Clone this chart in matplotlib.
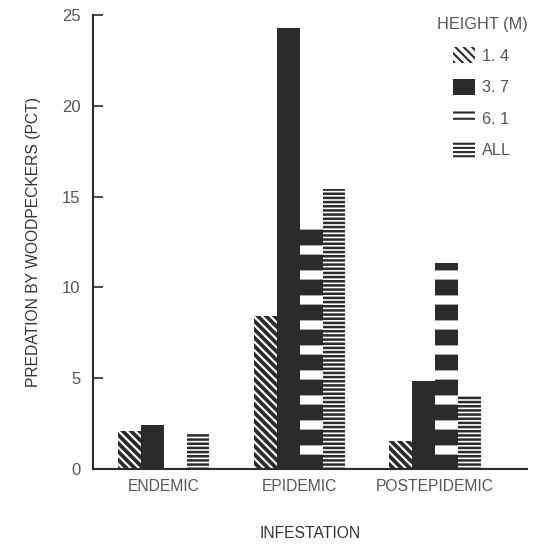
"""
Woodpecker predation by infestation level and sampling height.
Patterned bar chart recreated with matplotlib hatches.
"""

import numpy as np
import matplotlib
matplotlib.use('Agg')
import matplotlib.pyplot as plt
from matplotlib.patches import Patch
from matplotlib.legend_handler import HandlerTuple

# data
categories = ['ENDEMIC', 'EPIDEMIC', 'POSTEPIDEMIC']
heights = ['1. 4', '3. 7', '6. 1', 'ALL']
pct_14 = [2.1, 8.4, 1.55]
pct_37 = [2.45, 24.3, 4.85]
pct_61 = [0.0, 13.6, 11.35]
pct_all = [2.0, 15.4, 4.0]
yticks = [0, 5, 10, 15, 20, 25]

DPI = 150  # hatch spacing is per inch, so dpi sets the stripe period
dark = '#2b2b2b'
grey = '#555555'
clear = (1, 1, 1, 0)  # transparent face, hatch still drawn
DIAG = '\\' * 6
plt.rcParams['font.family'] = ['Liberation Sans', 'DejaVu Sans']


def set_hlw(p, lw):
    # per-artist hatch linewidth (matplotlib >= 3.10)
    if hasattr(p, 'set_hatch_linewidth'):
        p.set_hatch_linewidth(lw)


fig = plt.figure(figsize=(535 / DPI, 550 / DPI), dpi=DPI)
ax = fig.add_axes([93 / 535, 81 / 550, 434 / 535, 454 / 550])

centers = np.array([3.1, 9.05, 14.97])
bw = 1.0

# 1.4 m: diagonal stripes
b = ax.bar(centers - 1.5 * bw, pct_14, bw, color='white', edgecolor=dark,
           linewidth=0, hatch=DIAG)
for p in b:
    set_hlw(p, 1.8)

# 3.7 m: solid
ax.bar(centers - 0.5 * bw, pct_37, bw, color=dark, linewidth=0)

# 6.1 m: thick dark bands with a thin line between them
b = ax.bar(centers + 0.5 * bw, pct_61, bw, color='white', edgecolor=dark,
           linewidth=0, hatch='-')
for p in b:
    set_hlw(p, 5.8)
b = ax.bar(centers + 0.5 * bw, pct_61, bw, color=clear,
           edgecolor=dark, linewidth=0, hatch='--', zorder=3)
for p in b:
    set_hlw(p, 1.6)

# all heights: fine horizontal lines
b = ax.bar(centers + 1.5 * bw, pct_all, bw, color='white', edgecolor=dark,
           linewidth=0, hatch='------')
for p in b:
    set_hlw(p, 1.2)

ax.set_xlim(0, 19)
ax.set_ylim(0, 25)
ax.set_yticks(yticks)
ax.set_xticks(centers)
ax.set_xticklabels(categories, color=grey, fontsize=7.5)
ax.tick_params(axis='x', length=0, pad=5)
ax.tick_params(axis='y', direction='in', length=5, width=0.8, color=dark,
               labelcolor=grey, labelsize=8, pad=6)
for s in ['top', 'right']:
    ax.spines[s].set_visible(False)
for s in ['left', 'bottom']:
    ax.spines[s].set_color(dark)
    ax.spines[s].set_linewidth(1.0)

ax.set_ylabel('PREDATION BY WOODPECKERS (PCT)', color='#333333',
              fontsize=7.5, labelpad=10)
ax.set_xlabel('INFESTATION', color='#333333', fontsize=7.5, labelpad=15)

# legend handles
h14 = Patch(facecolor='white', edgecolor=dark, linewidth=0, hatch=DIAG)
set_hlw(h14, 1.8)
h37 = Patch(facecolor=dark, linewidth=0)
h61a = Patch(facecolor='white', edgecolor=dark, linewidth=0, hatch='-')
set_hlw(h61a, 5.8)
h61b = Patch(facecolor=clear, edgecolor=dark, linewidth=0, hatch='--')
set_hlw(h61b, 1.6)
hall = Patch(facecolor='white', edgecolor=dark, linewidth=0, hatch='------')
set_hlw(hall, 1.2)

fig.text(482 / 535, 1 - 25 / 550, 'HEIGHT (M)', color=grey, fontsize=7.8,
         ha='center', va='center')
leg = ax.legend([h14, h37, (h61a, h61b), hall], heights,
                handler_map={tuple: HandlerTuple(ndivide=1, pad=0)},
                loc='upper left',
                bbox_to_anchor=(453 / 535, 1 - 47 / 550),
                bbox_transform=fig.transFigure, frameon=False,
                fontsize=7.8, handlelength=1.35,
                handleheight=1.15, handletextpad=0.45, labelspacing=0.92,
                borderpad=0, borderaxespad=0)
for t in leg.get_texts():
    t.set_color(grey)

fig.savefig('out.png', dpi=DPI)
